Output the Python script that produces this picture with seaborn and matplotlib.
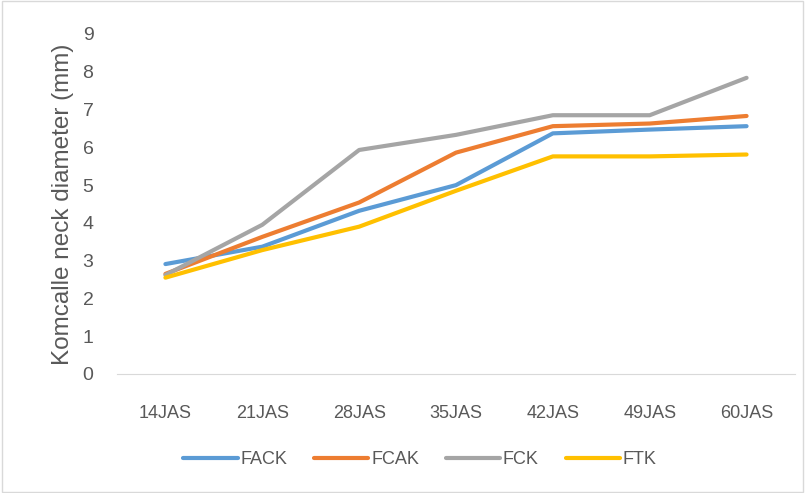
import pandas as pd
import matplotlib.pyplot as plt
import seaborn as sns

# chart values
days = ["14JAS", "21JAS", "28JAS", "35JAS", "42JAS", "49JAS", "60JAS"]
fack = [2.91, 3.37, 4.32, 5.0, 6.37, 6.47, 6.56]
fcak = [2.65, 3.63, 4.54, 5.86, 6.56, 6.63, 6.83]
fck = [2.62, 3.95, 5.93, 6.33, 6.85, 6.85, 7.84]
ftk = [2.55, 3.28, 3.9, 4.85, 5.76, 5.76, 5.81]
series = ["FACK", "FCAK", "FCK", "FTK"]
colors = ["#5B9BD5", "#ED7D31", "#A5A5A5", "#FFC000"]

text_color = "#595959"


def main():
    # long-form table for seaborn
    df = pd.concat([
        pd.DataFrame({"day": days, "value": vals, "treatment": name})
        for name, vals in zip(series, [fack, fcak, fck, ftk])
    ])

    sns.set_style("white")
    plt.rcParams["font.family"] = ["Liberation Sans", "DejaVu Sans"]

    fig = plt.figure(figsize=(8.05, 4.93), dpi=100)
    ax = fig.add_axes([117 / 805, 1 - 374 / 493, 678 / 805, 340 / 493])

    sns.lineplot(data=df, x="day", y="value", hue="treatment",
                 palette=colors, linewidth=3, sort=False, ax=ax,
                 solid_capstyle="round", legend=True)

    ax.set_ylim(0, 9)
    ax.set_xlim(-0.5, len(days) - 0.5)
    ax.set_yticks(range(0, 10))
    ax.set_xticks(range(len(days)))
    ax.set_xticklabels(days)
    ax.tick_params(axis="y", labelsize=14, colors=text_color, length=0, pad=17)
    ax.tick_params(axis="x", labelsize=13, colors=text_color, length=0, pad=22)

    # tick marks between categories
    ax.set_xticks([i - 0.5 for i in range(len(days) + 1)], minor=True)
    ax.tick_params(axis="x", which="minor", length=8, color="#D9D9D9", width=1)

    for side in ["top", "right", "left"]:
        ax.spines[side].set_visible(False)
    ax.spines["bottom"].set_color("#D9D9D9")

    ax.set_xlabel("")
    ax.set_ylabel("Komcalle neck diameter (mm)", fontsize=17.5, color=text_color, labelpad=6)

    handles, labels = ax.get_legend_handles_labels()
    ax.get_legend().remove()
    fig.legend(handles, labels, loc="center", bbox_to_anchor=(420 / 805, 1 - 460 / 493),
               ncol=4, frameon=False, fontsize=13, labelcolor=text_color,
               handlelength=3.0, columnspacing=1.5, handletextpad=0.15)

    # thin frame around the whole chart
    fig.patches.append(plt.Rectangle((0.002, 0.002), 0.996, 0.996, transform=fig.transFigure,
                                     fill=False, edgecolor="#D9D9D9", linewidth=1))

    fig.savefig("out.png", dpi=100)


if __name__ == "__main__":
    main()
